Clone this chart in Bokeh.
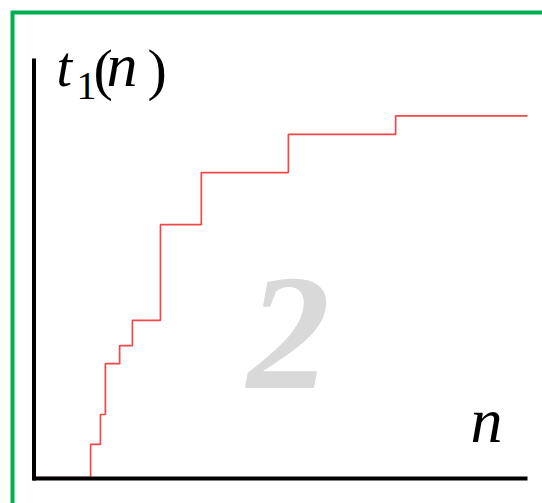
from bokeh.plotting import figure
from bokeh.models import Range1d
from bokeh.core.properties import value
from bokeh.embed import file_html
from bokeh.resources import INLINE

# Step function t1(n): breakpoints in n and the value held from each breakpoint on
n_steps = [0, 11.2, 13.2, 14.2, 17.1, 19.7, 25.4, 33.7, 51.4, 73.2, 100]
t_vals = [0, 7.9, 15.0, 27.1, 31.4, 37.4, 60.2, 72.6, 81.7, 86.1, 86.1]

W, H = 542, 503
# pixel <-> data conversion (frame fills the whole canvas)
X0, XS = 35.0, 4.92   # pixel x of n=0, pixels per unit n
Y0, YS = 477.0, 4.2   # pixel y of t=0, pixels per unit t


def X(px):
    return (px - X0) / XS


def Y(py):
    return (Y0 - py) / YS


p = figure(width=W, height=H, output_backend="svg", toolbar_location=None,
           x_range=Range1d(X(0), X(W)), y_range=Range1d(Y(H), Y(0)),
           x_axis_location=None, y_axis_location=None, min_border=0)
p.grid.visible = False
p.outline_line_color = None
p.background_fill_color = "white"
p.border_fill_color = "white"

# green frame along top and left edges
p.line([X(W + 10), X(12), X(12)], [Y(12), Y(12), Y(H + 10)],
       line_color="#00b050", line_width=4, line_join="miter")

serif = value("Liberation Serif")


def label(px, baseline, txt, size, style="normal", color="black", align="left"):
    # the anchor sits about 0.36 em above the glyph baseline
    p.text([X(px)], [Y(baseline - 0.36 * size)], text=[txt], text_font=serif,
           text_font_style=style, text_font_size=f"{size}px",
           text_color=color, text_align=align, text_baseline="alphabetic")


# watermark digit
label(288, 393, "2", 166, style="bold italic", color="#d9d9d9", align="center")

# step curve
p.step(n_steps, t_vals, mode="after", line_color="#f04848", line_width=1.7)

# axes
p.line([X(33.5), X(33.5)], [Y(58), Y(480)], line_color="black", line_width=4)
p.line([X(32), X(527)], [Y(478), Y(478)], line_color="black", line_width=4)

# axis label t_1(n)
label(56, 87, "t", 56, style="italic")
label(76, 100, "1", 40)
label(93, 90, "(", 58)
label(106, 87, "n", 62, style="italic")
label(147, 90, ")", 58)

# axis label n
label(470, 443, "n", 64, style="italic")

open("out.html", "w").write(file_html(p, INLINE))
